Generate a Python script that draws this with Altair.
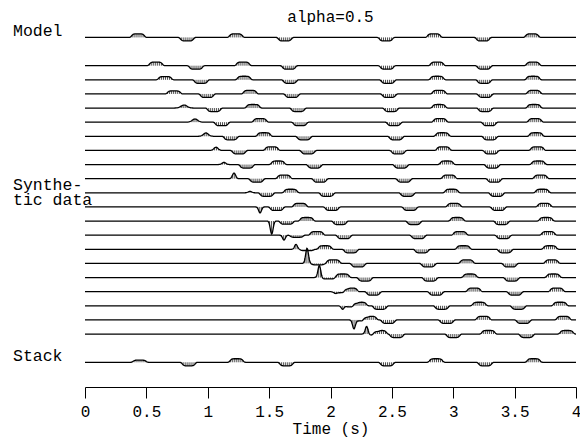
import numpy as np
import pandas as pd
import altair as alt

# ---------------- data ----------------
# Model trace: event times (s) and polarity / relative amplitude
model_t = [0.432, 0.831, 1.230, 1.629, 2.452, 2.843, 3.242, 3.642]
model_a = [1, -1, 1, -1, -1, 1, -1, 1]

# Stack trace
stack_t = [0.445, 0.845, 1.235, 1.640, 2.460, 2.860, 3.260, 3.655]
stack_a = [0.6, -1, 1, -1, -1, 1, -1, 1]

# Synthetic data: 20 traces, each with an early group and a late group of events
first_t = [0.578, 0.652, 0.725, 0.807, 0.896, 0.985, 1.067, 1.132, 1.214, 1.344,
           1.426, 1.521, 1.621, 1.719, 1.809, 1.909, 2.037, 2.099, 2.191, 2.295]
first_a = [1.0, 0.9, 0.85, 0.85, 0.9, 0.95, 0.9, 0.6, 1.6, 0.4,
           -1.7, -3.7, -1.4, 1.4, 4.3, 3.4, -0.4, -1.0, -2.5, 2.3]
# pulse half-width of the first event (0 = flat-topped wavelet)
first_w = [0, 0, 0, 0.035, 0.032, 0.028, 0.024, 0.022, 0.018, 0.02,
           0.016, 0.016, 0.016, 0.016, 0.016, 0.016, 0.018, 0.016, 0.016, 0.016]
second_t = [0.904, 0.945, 0.994, 1.051, 1.114, 1.187, 1.255, 1.317, 1.399, 1.480,
            1.562, 1.643, 1.725, 1.809, 1.898, 1.980, 2.094, 2.175, 2.257, 2.346]
second_a = [-1, -1, -1, -1, -1, -1, -1, -1, -1, -1,
            -1, -0.9, -0.6, -0.4, -0.4, -0.4, -0.3, -0.3, -0.3, -0.3]
third_t = [1.287, 1.295, 1.344, 1.369, 1.426, 1.458, 1.521, 1.572, 1.621, 1.676,
           1.752, 1.806, 1.888, 1.955, 2.023, 2.099, 2.165, 2.240, 2.322, 2.403]
fourth_t = [1.662, 1.670, 1.686, 1.735, 1.752, 1.784, 1.817, 1.870, 1.914, 1.971,
            2.012, 2.077, 2.110, 2.165, 2.226, 2.281, 2.349, 2.403, 2.471, 2.539]
late1_t = [2.460, 2.468, 2.477, 2.493, 2.517, 2.534, 2.552, 2.574, 2.599, 2.626,
           2.648, 2.680, 2.715, 2.743, 2.797, 2.811, 2.859, 2.906, 2.947, 3.000]
late2_t = [2.868, 2.868, 2.884, 2.884, 2.892, 2.911, 2.919, 2.947, 2.965, 2.987,
           3.006, 3.031, 3.055, 3.082, 3.110, 3.136, 3.169, 3.212, 3.245, 3.286]
late3_t = [3.251, 3.251, 3.259, 3.259, 3.294, 3.299, 3.308, 3.318, 3.334, 3.354,
           3.367, 3.395, 3.408, 3.422, 3.462, 3.476, 3.503, 3.530, 3.571, 3.598]
late4_t = [3.650, 3.650, 3.658, 3.658, 3.666, 3.674, 3.685, 3.693, 3.712, 3.725,
           3.742, 3.756, 3.774, 3.788, 3.802, 3.815, 3.843, 3.870, 3.897, 3.924]

# Row labels on the left
label_text = ["Model", "Synthe-", "tic data", "Stack"]
label_row = [-2.1, 8.8, 9.85, 20.92]

title_text = "alpha=0.5"
x_title = "Time (s)"
x_ticks = [0, 0.5, 1, 1.5, 2, 2.5, 3, 3.5, 4]

# ---------------- build the wiggle traces ----------------
AMP = 0.25          # one unit of amplitude in trace spacings
dt = 0.004
tt = np.round(np.arange(0, 4 + dt / 2, dt), 4)


def wave(events):
    w = np.zeros_like(tt)
    for t0, a, width in events:
        d = tt - t0
        if width > 0:
            w += a * np.exp(-(d / width) ** 2)
        else:
            w += a * np.exp(-np.abs(d / 0.055) ** 6)
    return w


traces = []
traces.append((-2, [(t, a, 0) for t, a in zip(model_t, model_a)]))
for i in range(20):
    ev = [(first_t[i], first_a[i], first_w[i]),
          (second_t[i], second_a[i], 0),
          (third_t[i], 1, 0),
          (fourth_t[i], -1, 0),
          (late1_t[i], -1, 0),
          (late2_t[i], 1, 0),
          (late3_t[i], -1, 0),
          (late4_t[i], 1, 0)]
    traces.append((i, ev))
traces.append((21, [(t, a, 0) for t, a in zip(stack_t, stack_a)]))

line_rows = []
hatch_rows = []
for row, ev in traces:
    w = wave(ev)
    n = len(tt)
    nz = np.abs(w) > 1e-3
    keep = nz.copy()
    keep[1:] |= nz[:-1]
    keep[:-1] |= nz[1:]
    keep[0] = keep[-1] = True
    for k in np.nonzero(keep)[0]:
        line_rows.append({"row": row, "t": float(tt[k]), "y": row - AMP * float(w[k])})
    for k in range(0, n, 4):
        if abs(w[k]) > 0.25:
            hatch_rows.append({"row": row, "t": float(tt[k]), "y0": float(row),
                               "y": row - AMP * float(w[k])})

lines = pd.DataFrame(line_rows)
hatch = pd.DataFrame(hatch_rows)
labels = pd.DataFrame({"label": label_text, "row": label_row})

FONT = "Liberation Mono"
xscale = alt.Scale(domain=[0, 4], nice=False, zero=False)
yscale = alt.Scale(domain=[-2.88, 22.75], reverse=True, nice=False, zero=False)

xenc = alt.X("t:Q", scale=xscale,
             axis=alt.Axis(values=x_ticks, title=x_title, grid=False, tickSize=11,
                           labelFont=FONT, labelFontSize=16, titleFont=FONT,
                           titleFontSize=16, titleFontWeight="normal",
                           labelColor="black", titleColor="black",
                           domainColor="black", tickColor="black",
                           labelPadding=5, titlePadding=1, labelFlush=False,
                           format="~g"))

line_layer = alt.Chart(lines).mark_line(color="black", strokeWidth=1.3).encode(
    x=xenc,
    y=alt.Y("y:Q", scale=yscale, axis=None),
    detail="row:N",
    order="t:Q",
)

hatch_layer = alt.Chart(hatch).mark_rule(color="black", strokeWidth=0.7).encode(
    x=alt.X("t:Q", scale=xscale),
    y=alt.Y("y0:Q", scale=yscale, axis=None),
    y2="y:Q",
)

text_layer = alt.Chart(labels).mark_text(
    align="left", baseline="alphabetic", font=FONT, fontSize=16.5, color="black"
).encode(
    x=alt.value(-72),
    y=alt.Y("row:Q", scale=yscale, axis=None),
    text="label:N",
)

chart = alt.layer(hatch_layer, line_layer, text_layer).properties(
    width=491, height=362,
    padding={"left": 85, "top": 25, "right": 4, "bottom": 52},
    autosize="none",
    title=alt.TitleParams(title_text, font=FONT, fontSize=16, fontWeight="normal",
                          color="black", anchor="middle", offset=-2),
).configure_view(stroke=None)

chart.save("out.html", embed_options={"renderer": "svg", "actions": False})
